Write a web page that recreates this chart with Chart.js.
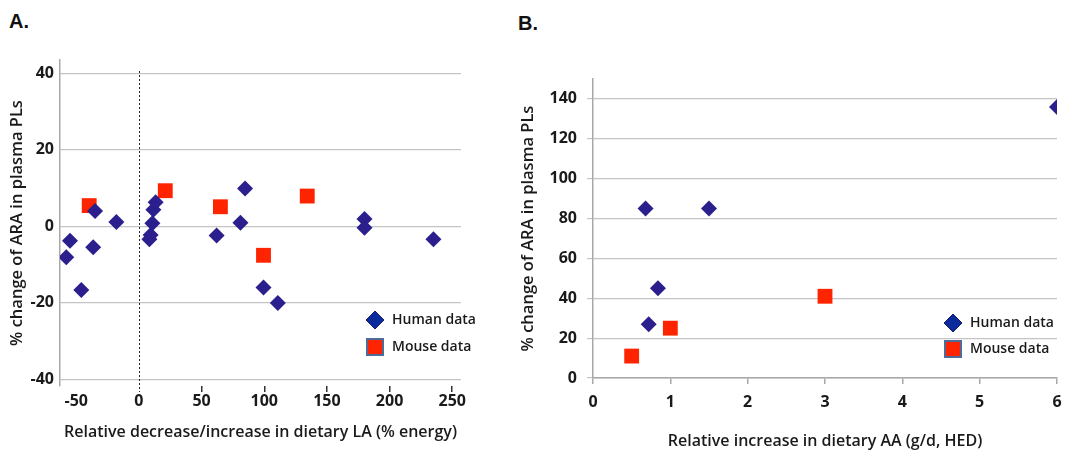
<!DOCTYPE html>
<html>
<head>
<meta charset="utf-8">
<script src="https://cdn.jsdelivr.net/npm/chart.js@4.4.1/dist/chart.umd.min.js"></script>
<style>
  body { margin: 0; background: #fff; width: 1081px; height: 452px; position: relative; overflow: hidden; }
  .panel-label { position: absolute; font: bold 20px "Liberation Sans", Arial, sans-serif; color: #111; }
  #wrapA { position: absolute; left: 0; top: 0; width: 480px; height: 452px; }
  #wrapB { position: absolute; left: 500px; top: 0; width: 581px; height: 452px; }
</style>
</head>
<body>
<div class="panel-label" style="left:9px;top:10px">A.</div>
<div class="panel-label" style="left:518px;top:12px">B.</div>
<div id="wrapA"><canvas id="chartA"></canvas></div>
<div id="wrapB"><canvas id="chartB"></canvas></div>

<script>
// Panel A: change in dietary LA (% energy) vs % change of ARA
const humanLA_x = [-58, -55, -46, -35, -36.5, -18, 8.3, 9.3, 10.7, 11.5, 13.3, 62, 81, 84.7, 99.4, 110.8, 180, 180, 235];
const humanLA_y = [-8.1, -3.8, -16.7, 4.0, -5.5, 1.1, -3.4, -2.3, 0.8, 4.3, 6.3, -2.4, 0.9, 9.9, -16, -20.1, 1.9, -0.4, -3.4];
const mouseLA_x = [-39.7, 21, 65, 99.4, 134.3];
const mouseLA_y = [5.4, 9.3, 5.1, -7.6, 7.9];
const ticksA_x = [-50, 0, 50, 100, 150, 200, 250];
const ticksA_y = [-40, -20, 0, 20, 40];

// Panel B: increase in dietary AA (g/d, HED) vs % change of ARA
const humanAA_x = [0.68, 1.5, 0.84, 0.72, 6];
const humanAA_y = [85, 85, 45, 27, 136];
const mouseAA_x = [0.5, 1, 3];
const mouseAA_y = [11, 25, 41];
const ticksB_y = [0, 20, 40, 60, 80, 100, 120, 140];

const seriesNames = ['Human data', 'Mouse data'];

const HUMAN = '#2a1f8c';
const MOUSE = '#ff2400';
const GRID = '#c4c4c4';
const AXIS = '#a8a8a8';
const TEXT = '#1a1a1a';
const FONT = '"Open Sans", "Noto Sans", sans-serif';

function pts(xs, ys) {
  return xs.map((x, i) => ({ x, y: ys[i] }));
}

function setTicks(list) {
  return scale => { scale.ticks = list.map(v => ({ value: v })); };
}

// legend drawn inside the plot, bottom right
const insideLegend = {
  id: 'insideLegend',
  afterDraw(chart, args, opts) {
    const ctx = chart.ctx;
    ctx.save();
    ctx.font = '600 14px ' + FONT;
    ctx.textBaseline = 'middle';
    // diamond
    let x = opts.x, y = opts.y;
    ctx.beginPath();
    ctx.moveTo(x, y - 9); ctx.lineTo(x + 9, y); ctx.lineTo(x, y + 9); ctx.lineTo(x - 9, y);
    ctx.closePath();
    ctx.fillStyle = '#0b2a9c';
    ctx.fill();
    ctx.strokeStyle = '#1b1f6a';
    ctx.lineWidth = 1;
    ctx.stroke();
    ctx.fillStyle = TEXT;
    ctx.fillText(seriesNames[0], x + 17, y);
    // square
    y = opts.y + opts.gap;
    ctx.fillStyle = MOUSE;
    ctx.fillRect(x - 8, y - 8, 16, 16);
    ctx.strokeStyle = '#4f6b99';
    ctx.lineWidth = 2;
    ctx.strokeRect(x - 8, y - 8, 16, 16);
    ctx.fillStyle = TEXT;
    ctx.fillText(seriesNames[1], x + 17, y);
    ctx.restore();
  }
};

// dotted reference line at x = 0 in panel A
const zeroLine = {
  id: 'zeroLine',
  beforeDatasetsDraw(chart, args, opts) {
    if (!opts.enabled) return;
    const { ctx, chartArea, scales } = chart;
    const px = Math.round(scales.x.getPixelForValue(0)) + 0.5;
    ctx.save();
    ctx.strokeStyle = '#222';
    ctx.lineWidth = 1;
    ctx.setLineDash([2, 2]);
    ctx.beginPath();
    ctx.moveTo(px, chartArea.top + 11);
    ctx.lineTo(px, chartArea.bottom + 6);
    ctx.stroke();
    ctx.restore();
  }
};

function datasets(hx, hy, mx, my) {
  return [
    {
      label: seriesNames[0],
      data: pts(hx, hy),
      pointStyle: 'rectRot',
      pointRadius: 8,
      backgroundColor: HUMAN,
      borderColor: HUMAN,
      borderWidth: 0
    },
    {
      label: seriesNames[1],
      data: pts(mx, my),
      pointStyle: 'rect',
      pointRadius: 10.5,
      backgroundColor: MOUSE,
      borderColor: MOUSE,
      borderWidth: 0
    }
  ];
}

const titleFont = { family: FONT, size: 16.5, weight: '600' };
const xTitleFont = { family: FONT, size: 16, weight: '600' };
const tickFont = { family: FONT, size: 16, weight: 'bold' };

new Chart(document.getElementById('chartA'), {
  type: 'scatter',
  data: { datasets: datasets(humanLA_x, humanLA_y, mouseLA_x, mouseLA_y) },
  options: {
    responsive: true,
    maintainAspectRatio: false,
    animation: false,
    layout: { padding: { top: 60, right: 19, left: 0, bottom: 0 } },
    plugins: {
      legend: { display: false },
      tooltip: { enabled: false },
      zeroLine: { enabled: true },
      insideLegend: { x: 375, y: 320, gap: 27 }
    },
    scales: {
      x: {
        type: 'linear',
        min: -63,
        max: 257,
        afterBuildTicks: setTicks(ticksA_x),
        afterFit: s => { s.height = 66; },
        border: { display: false },
        grid: {
          drawOnChartArea: false,
          drawTicks: true,
          tickLength: 6,
          lineWidth: 1.5,
          color: c => (c.tick && (c.tick.value === -50 || c.tick.value === 0)) ? 'rgba(0,0,0,0)' : '#333'
        },
        ticks: { color: TEXT, font: tickFont, padding: 0, maxRotation: 0 },
        title: {
          display: true,
          text: 'Relative decrease/increase in dietary LA (% energy)',
          color: TEXT,
          font: xTitleFont,
          padding: { top: 0, bottom: 10 }
        }
      },
      y: {
        min: -41.8,
        max: 43.5,
        afterBuildTicks: setTicks(ticksA_y),
        afterFit: s => { s.width = 60; },
        border: { display: true, color: AXIS, width: 1.5 },
        grid: { color: GRID, drawTicks: false, lineWidth: 1.2 },
        ticks: { color: TEXT, font: tickFont, padding: 6 },
        title: {
          display: true,
          text: '% change of ARA in plasma PLs',
          color: TEXT,
          font: titleFont,
          padding: { top: 7, bottom: 0 }
        }
      }
    }
  },
  plugins: [zeroLine, insideLegend]
});

new Chart(document.getElementById('chartB'), {
  type: 'scatter',
  data: { datasets: datasets(humanAA_x, humanAA_y, mouseAA_x, mouseAA_y) },
  options: {
    responsive: true,
    maintainAspectRatio: false,
    animation: false,
    layout: { padding: { top: 79, right: 24, left: 0, bottom: 0 } },
    plugins: {
      legend: { display: false },
      tooltip: { enabled: false },
      zeroLine: { enabled: false },
      insideLegend: { x: 453, y: 323, gap: 26 }
    },
    scales: {
      x: {
        type: 'linear',
        min: 0,
        max: 6,
        ticks: { stepSize: 1, color: TEXT, font: tickFont, padding: 9, maxRotation: 0 },
        afterFit: s => { s.height = 74; },
        border: { display: true, color: AXIS, width: 1.5 },
        grid: { drawOnChartArea: false, drawTicks: true, tickLength: 6, color: AXIS, lineWidth: 1.5 },
        title: {
          display: true,
          text: 'Relative increase in dietary AA (g/d, HED)',
          color: TEXT,
          font: xTitleFont,
          padding: { top: 0, bottom: 1 }
        }
      },
      y: {
        min: 0,
        max: 150,
        afterBuildTicks: setTicks(ticksB_y),
        afterFit: s => { s.width = 93; },
        border: { display: true, color: AXIS, width: 1.5 },
        grid: { color: GRID, drawTicks: true, tickLength: 6, lineWidth: 1.2 },
        ticks: { color: TEXT, font: tickFont, padding: 10 },
        title: {
          display: true,
          text: '% change of ARA in plasma PLs',
          color: TEXT,
          font: titleFont,
          padding: { top: 18, bottom: 0 }
        }
      }
    }
  },
  plugins: [zeroLine, insideLegend]
});
</script>
</body>
</html>
